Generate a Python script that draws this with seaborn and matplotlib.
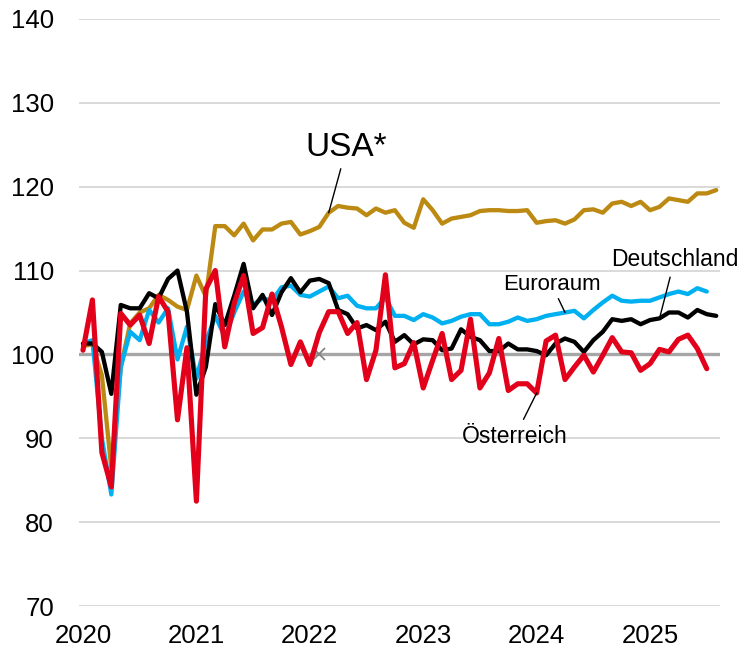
import matplotlib
matplotlib.use("Agg")
import matplotlib.pyplot as plt
import numpy as np
import pandas as pd
import seaborn as sns

# monthly index values, Jan 2020 = month 0
usa = [101.0, 101.2, 97.5, 86.4, 98.5, 103.7, 105.0, 105.5, 107.1, 106.5, 105.7, 105.3,
       109.4, 106.9, 115.3, 115.3, 114.2, 115.6, 113.6, 114.9, 114.9, 115.6, 115.8, 114.3,
       114.7, 115.2, 116.9, 117.7, 117.5, 117.4, 116.6, 117.4, 116.9, 117.2, 115.7, 115.1,
       118.5, 117.2, 115.6, 116.2, 116.4, 116.6, 117.1, 117.2, 117.2, 117.1, 117.1, 117.2,
       115.7, 115.9, 116.0, 115.6, 116.1, 117.2, 117.3, 116.9, 118.0, 118.2, 117.7, 118.2,
       117.2, 117.6, 118.6, 118.4, 118.2, 119.2, 119.2, 119.6]

deutschland = [101.3, 101.3, 100.3, 95.3, 105.9, 105.5, 105.5, 107.3, 106.7, 109.0, 110.0, 105.1,
               95.2, 98.5, 106.0, 103.5, 107.0, 110.8, 105.5, 107.1, 104.7, 107.4, 109.1, 107.4,
               108.8, 109.0, 108.5, 105.3, 104.8, 103.1, 103.5, 102.9, 103.9, 101.5, 102.3, 101.2,
               101.8, 101.7, 100.5, 100.7, 103.0, 102.1, 101.7, 100.4, 100.4, 101.3, 100.6, 100.6,
               100.4, 99.9, 101.3, 101.9, 101.5, 100.3, 101.7, 102.7, 104.2, 104.0, 104.2, 103.6,
               104.1, 104.3, 105.0, 105.0, 104.4, 105.3, 104.8, 104.6]

euroraum = [101.3, 101.7, 90.0, 83.3, 98.5, 102.7, 101.7, 105.3, 103.8, 105.5, 99.4, 103.3,
            97.1, 101.5, 104.6, 102.1, 105.0, 107.5, 105.9, 106.7, 106.4, 108.0, 108.2, 107.1,
            106.9, 107.5, 108.1, 106.7, 107.0, 105.8, 105.5, 105.5, 106.8, 104.6, 104.6, 104.1,
            104.8, 104.4, 103.7, 104.0, 104.5, 104.8, 104.8, 103.6, 103.6, 103.9, 104.4, 104.0,
            104.2, 104.6, 104.8, 105.0, 105.2, 104.3, 105.3, 106.2, 107.0, 106.4, 106.3, 106.4,
            106.4, 106.8, 107.2, 107.5, 107.2, 107.9, 107.5]

oesterreich = [100.5, 106.5, 88.3, 84.2, 104.9, 103.5, 104.7, 101.3, 106.9, 105.1, 92.2, 100.8,
               82.5, 107.8, 110.0, 100.9, 106.1, 109.4, 102.5, 103.2, 107.2, 103.3, 98.8, 101.5,
               98.8, 102.6, 105.1, 105.1, 102.5, 103.8, 97.0, 100.5, 109.5, 98.4, 98.9, 101.4,
               96.0, 99.3, 102.5, 97.0, 98.1, 104.2, 96.0, 97.8, 101.9, 95.7, 96.5, 96.5,
               95.4, 101.6, 102.3, 97.0, 98.5, 99.9, 97.9, 99.9, 102.0, 100.3, 100.2, 98.1,
               98.9, 100.6, 100.3, 101.8, 102.3, 100.7, 98.3]

years = ["2020", "2021", "2022", "2023", "2024", "2025"]
base_level = 100
base_marker_month = 25

# label, text position (month, value), month the leader points to, font size, gap
labels = [
    ("USA*", (27.9, 124.7), 26, usa, 24, 2),
    ("Euroraum", (49.6, 108.3), 51, euroraum, 16, 0),
    ("Deutschland", (62.6, 111.3), 61, deutschland, 16.5, 2),
    ("Österreich", (45.7, 90.2), 48, oesterreich, 16.5, 2),
]

sns.set_style("white")
plt.rcParams["font.family"] = ["Liberation Sans", "DejaVu Sans"]
plt.rcParams["text.color"] = "black"
plt.rcParams["xtick.color"] = "black"
plt.rcParams["ytick.color"] = "black"

fig = plt.figure(figsize=(7.38, 6.52), dpi=100)
ax = fig.add_axes([79 / 738, 1 - 606 / 652, (720 - 79) / 738, (606 - 19) / 652])

ax.yaxis.grid(True, color="#d9d9d9", lw=1.4)
ax.xaxis.grid(False)
ax.axhline(base_level, color="#a6a6a6", lw=2.4, zorder=1.5)
ax.plot([base_marker_month], [base_level], marker="x", color="#7f7f7f",
        ms=8, mew=1.2, zorder=1.6)

series = [
    (usa, "#BC8A12", 3.1),
    (euroraum, "#00B0F0", 3.1),
    (deutschland, "#000000", 3.1),
    (oesterreich, "#E2001A", 3.7),
]
for values, color, lw in series:
    df = pd.DataFrame({"month": np.arange(len(values)), "value": values})
    sns.lineplot(data=df, x="month", y="value", color=color, lw=lw, ax=ax, zorder=3)

for text, pos, m, values, fs, gap in labels:
    ax.annotate(text, xy=(m, values[m]), xytext=pos, ha="center", va="center",
                fontsize=fs, color="black", zorder=5,
                arrowprops=dict(arrowstyle="-", color="black", lw=1.0,
                                shrinkA=gap, shrinkB=0))

ax.set_xlim(-0.42, 67.4)
ax.set_ylim(70, 140)
ax.set_yticks(range(70, 141, 10))
ax.set_xticks([12 * i for i in range(len(years))])
ax.set_xticklabels(years)
ax.set_xlabel("")
ax.set_ylabel("")
ax.tick_params(axis="y", length=0, pad=18, labelsize=18.5, labelcolor="black")
ax.tick_params(axis="x", length=0, pad=13, labelsize=18.5, labelcolor="black")
for s in ax.spines.values():
    s.set_visible(False)

fig.savefig("out.png", dpi=100)
